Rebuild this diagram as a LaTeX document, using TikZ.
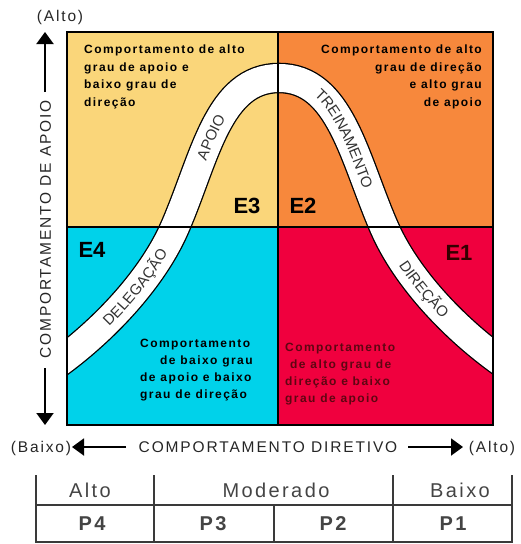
\documentclass[tikz,border=0pt]{standalone}
\usepackage{fontspec}
\setmainfont{Liberation Sans}
\newfontfamily\spfont[LetterSpace=12]{Liberation Sans}
\newfontfamily\bandfont[LetterSpace=15]{Liberation Sans}
\usetikzlibrary{arrows.meta,decorations.text}
\definecolor{qyellow}{HTML}{FAD67A}
\definecolor{qorange}{HTML}{F7883C}
\definecolor{qcyan}{HTML}{00D2EA}
\definecolor{qred}{HTML}{F0003E}
\definecolor{brtxt}{HTML}{5E0612}
\definecolor{tgray}{HTML}{3A3A3A}
\definecolor{ttxt}{HTML}{444444}
\tikzset{
  qtext/.style={font=\spfont\bfseries\fontsize{12}{17.5}\selectfont, inner sep=0pt},
  qtextb/.style={font=\spfont\bfseries\fontsize{12}{17}\selectfont, inner sep=0pt},
  elabel/.style={font=\bfseries\fontsize{22}{22}\selectfont, inner sep=0pt},
  axtext/.style={font=\spfont\fontsize{15.5}{18}\selectfont, inner sep=0pt, text=black!85},
  axarrow/.style={line width=2pt, -{Triangle[length=12pt,width=17pt]}},
  tline/.style={line width=1.8pt, draw=tgray},
  ttext/.style={font=\spfont\fontsize{20}{22}\selectfont, inner sep=0pt, text=ttxt, anchor=base},
  ptext/.style={font=\spfont\bfseries\fontsize{20}{22}\selectfont, inner sep=0pt, text=ttxt, anchor=base},
  bandtext/.style={decorate, decoration={text along path, text color=black!80, raise=-5.3pt, #1}}
}
\begin{document}
\begin{tikzpicture}[x=1pt,y=-1pt]
\useasboundingbox (0,0) rectangle (520,544);
% quadrants
\fill[qyellow] (67,32) rectangle (278,227);
\fill[qorange] (278,32) rectangle (493,227);
\fill[qcyan] (67,227) rectangle (278,425);
\fill[qred] (278,227) rectangle (493,425);
% band
\begin{scope}
\clip (67,32) rectangle (493,425);
\draw[black, line width=1.3pt, double=white, double distance=28pt]
 (50,369) .. controls (95,338) and (150,284.5) .. (175,227)
 .. controls (205,158) and (218,78) .. (279,78)
 .. controls (340,78) and (354,158) .. (384,227)
 .. controls (409,284.5) and (465,338) .. (510,368);
\end{scope}
% band labels
\path[bandtext={text={|\bandfont\fontsize{15}{15}\selectfont|APOIO}, text align=center}]
 (175,227) .. controls (205,158) and (218,78) .. (279,78);
\path[bandtext={text={|\bandfont\fontsize{15}{15}\selectfont|TREINAMENTO}, text align=center}]
 (279,78) .. controls (340,78) and (354,158) .. (384,227);
\path[bandtext={text={|\bandfont\fontsize{15}{15}\selectfont|DELEGAÇÃO}, text align={right, right indent=26pt}}]
 (50,369) .. controls (95,338) and (150,284.5) .. (175,227);
\path[bandtext={text={|\bandfont\fontsize{15}{15}\selectfont|DIREÇÃO}, text align={left, left indent=40pt}}]
 (384,227) .. controls (409,284.5) and (465,338) .. (510,368);
% grid lines and border
\draw[line width=1.5pt] (278,32) -- (278,425);
\draw[line width=1.5pt] (67,227) -- (493,227);
\draw[line width=2.2pt] (67,32) rectangle (493,425);
% quadrant texts
\node[qtext, anchor=north west, align=left] (tltext) at (84,45)
  {Comportamento de alto\\grau de apoio e\\baixo grau de\\direção};
\node[qtext, anchor=north east, align=right] (trtext) at (482,45)
  {Comportamento de alto\\grau de direção\\e alto grau\\de apoio};
\node[qtextb, anchor=north west, align=left] (bltext) at (140,339)
  {Comportamento\\\hspace*{20pt}de baixo grau\\de apoio e baixo\\grau de direção};
\node[qtextb, text=brtxt, anchor=north west, align=left] (brtext) at (285,343)
  {Comportamento\\\hspace*{5pt}de alto grau de\\direção e baixo\\grau de apoio};
% E labels
\node[elabel] (e3) at (247,206) {E3};
\node[elabel] (e2) at (303,206) {E2};
\node[elabel] (e4) at (92,250) {E4};
\node[elabel, text=black!80!red] (e1) at (459,253) {E1};
% axes
\node[axtext, rotate=90] (ylab) at (45.5,229.5) {COMPORTAMENTO DE APOIO};
\node[axtext, anchor=base] (yalto) at (60,21.5) {(Alto)};
\node[axtext, anchor=base] (xlab) at (268,452.5) {COMPORTAMENTO DIRETIVO};
\node[axtext, anchor=base] (xbaixo) at (41,452.5) {(Baixo)};
\node[axtext, anchor=base] (xalto) at (492,452.5) {(Alto)};
\coordinate (ya1) at (45,92); \coordinate (ya2) at (45,32);
\coordinate (yb1) at (45,368); \coordinate (yb2) at (45,425);
\coordinate (xa1) at (126,447); \coordinate (xa2) at (72,447);
\coordinate (xb1) at (408,447); \coordinate (xb2) at (463,447);
\draw[axarrow] (ya1) -- (ya2);
\draw[axarrow] (yb1) -- (yb2);
\draw[axarrow] (xa1) -- (xa2);
\draw[axarrow] (xb1) -- (xb2);
% table
\draw[tline] (36,475) -- (36,542) -- (512,542) -- (512,475);
\draw[tline] (36,505) -- (512,505);
\draw[tline] (154,475) -- (154,542);
\draw[tline] (393,475) -- (393,542);
\draw[tline] (274,505) -- (274,542);
\node[ttext] (talto) at (90,497) {Alto};
\node[ttext] (tmod) at (276,497) {Moderado};
\node[ttext] (tbaixo) at (460,497) {Baixo};
\node[ptext] (p4) at (92,530) {P4};
\node[ptext] (p3) at (213,530) {P3};
\node[ptext] (p2) at (333,530) {P2};
\node[ptext] (p1) at (453,530) {P1};
\end{tikzpicture}
\end{document}
